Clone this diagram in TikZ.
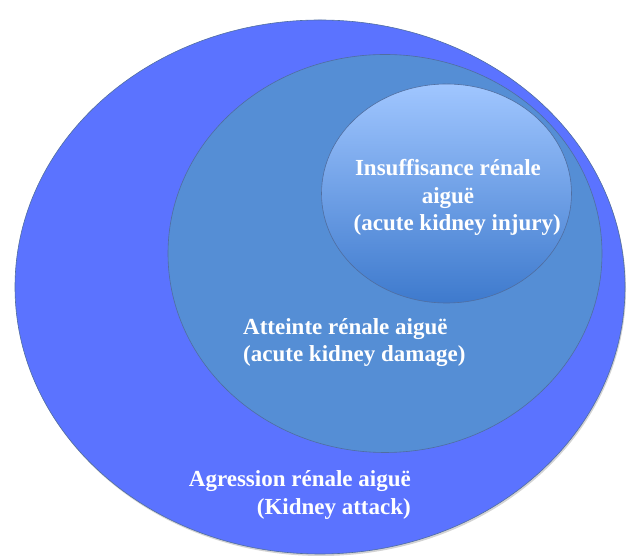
\documentclass[tikz,border=0pt]{standalone}
\usepackage{fontspec}
\setmainfont{Liberation Serif}
\usetikzlibrary{shapes.geometric,shadows}

\definecolor{attackblue}{RGB}{91,115,255}
\definecolor{damageblue}{RGB}{85,142,213}
\definecolor{injurytop}{RGB}{160,198,255}
\definecolor{injurybottom}{RGB}{62,122,205}
\definecolor{rimgrey}{RGB}{80,110,160}

\begin{document}
\begin{tikzpicture}[x=1pt,y=1pt,
  zone/.style={ellipse, inner sep=0pt, draw=rimgrey, line width=0.6pt},
  label/.style={text=white, inner sep=0pt, font=\bfseries\fontsize{23}{27.5}\selectfont}]
\useasboundingbox (0,0) rectangle (627,556);

% The three nested zones
\node [zone, fill=attackblue, minimum width=610, minimum height=534,
  drop shadow={opacity=0.35, shadow xshift=1pt, shadow yshift=-2pt}] (attack) at (320,269) {};
\node [zone, fill=damageblue, minimum width=434, minimum height=398] (damage) at (385,302.5) {};
\node [zone, top color=injurytop, bottom color=injurybottom, minimum width=250, minimum height=219] (injury) at (446.5,362.5) {};

% Labels
\node [label, align=center] (injurytext) at (448,358.5)
  {Insuffisance rénale\\aiguë\\\hspace*{0.8em}(acute kidney injury)};
\node [label, align=left, anchor=west] (damagetext) at (243,213.5)
  {Atteinte rénale aiguë\\(acute kidney damage)};
\node [label, align=right, anchor=east] (attacktext) at (411,61)
  {Agression rénale aiguë\\(Kidney attack)};
\end{tikzpicture}
\end{document}
